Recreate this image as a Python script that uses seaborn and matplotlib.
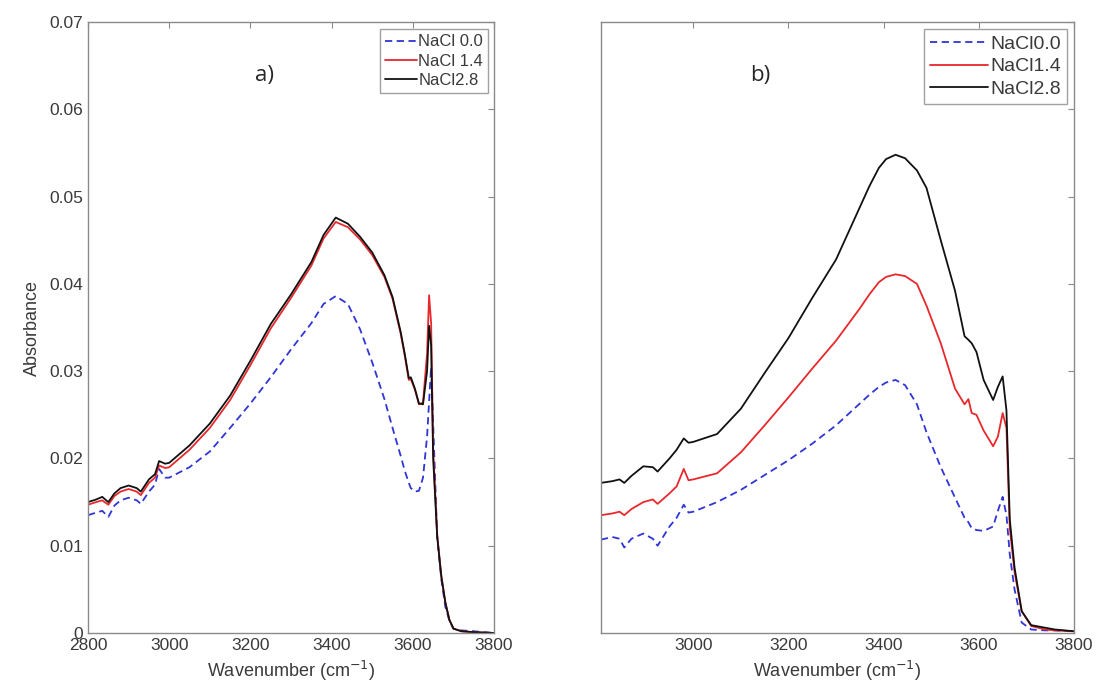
import numpy as np
import pandas as pd
import matplotlib
matplotlib.use('Agg')
import matplotlib.pyplot as plt
import seaborn as sns

# panel a) spectra
wn_a = [2800, 2820, 2835, 2850, 2865, 2880, 2900, 2920, 2930, 2950,
        2965, 2975, 2990, 3000, 3050, 3100, 3150, 3200, 3250, 3300,
        3350, 3380, 3410, 3440, 3470, 3500, 3530, 3550, 3570, 3580,
        3590, 3595, 3605, 3615, 3625, 3635, 3640, 3645, 3650, 3660,
        3670, 3680, 3690, 3700, 3720, 3750, 3800]
a_nacl00 = [0.0135, 0.0138, 0.0140, 0.0133, 0.0146, 0.0152, 0.0155, 0.0152, 0.0148, 0.0162,
            0.0170, 0.0188, 0.0178, 0.0178, 0.0190, 0.0208, 0.0235, 0.0263, 0.0293, 0.0325,
            0.0355, 0.0377, 0.0386, 0.0377, 0.0348, 0.0310, 0.0268, 0.0235, 0.0203, 0.0186,
            0.0172, 0.0166, 0.0162, 0.0163, 0.0178, 0.0225, 0.0265, 0.0305, 0.0240, 0.0110,
            0.0062, 0.0030, 0.0014, 0.0005, 0.0003, 0.0002, 0.0]
a_nacl14 = [0.0147, 0.0150, 0.0152, 0.0147, 0.0157, 0.0162, 0.0165, 0.0162, 0.0158, 0.0172,
            0.0178, 0.0192, 0.0189, 0.0190, 0.0210, 0.0235, 0.0267, 0.0307, 0.0349, 0.0384,
            0.0421, 0.0452, 0.0471, 0.0465, 0.0451, 0.0433, 0.0408, 0.0383, 0.0343, 0.0318,
            0.0290, 0.0291, 0.0279, 0.0262, 0.0264, 0.0320, 0.0387, 0.0355, 0.0210, 0.0112,
            0.0066, 0.0035, 0.0015, 0.0005, 0.0002, 0.0001, 0.0]
a_nacl28 = [0.0150, 0.0153, 0.0156, 0.0150, 0.0160, 0.0166, 0.0169, 0.0166, 0.0162, 0.0176,
            0.0182, 0.0197, 0.0194, 0.0195, 0.0215, 0.0240, 0.0272, 0.0312, 0.0354, 0.0388,
            0.0425, 0.0456, 0.0476, 0.0469, 0.0454, 0.0436, 0.0410, 0.0385, 0.0345, 0.0320,
            0.0292, 0.0293, 0.0280, 0.0263, 0.0262, 0.0300, 0.0352, 0.0330, 0.0200, 0.0110,
            0.0065, 0.0035, 0.0015, 0.0005, 0.0002, 0.0001, 0.0]

# panel b) spectra
wn_b = [2806, 2830, 2845, 2855, 2870, 2895, 2915, 2925, 2950, 2965,
        2980, 2990, 3000, 3050, 3100, 3150, 3200, 3250, 3300, 3350,
        3370, 3390, 3405, 3425, 3445, 3470, 3490, 3520, 3550, 3570,
        3578, 3585, 3595, 3610, 3630, 3640, 3650, 3658, 3665, 3675,
        3690, 3710, 3740, 3760, 3800]
b_nacl00 = [0.0107, 0.0110, 0.0108, 0.0098, 0.0108, 0.0114, 0.0108, 0.0100, 0.0122, 0.0132,
            0.0147, 0.0138, 0.0139, 0.0150, 0.0164, 0.0181, 0.0198, 0.0217, 0.0238, 0.0263,
            0.0273, 0.0282, 0.0287, 0.0290, 0.0284, 0.0262, 0.0230, 0.0190, 0.0155, 0.0132,
            0.0127, 0.0120, 0.0118, 0.0117, 0.0122, 0.0140, 0.0156, 0.0135, 0.0090, 0.0050,
            0.0012, 0.0004, 0.0003, 0.0003, 0.0002]
b_nacl14 = [0.0135, 0.0137, 0.0139, 0.0135, 0.0142, 0.0150, 0.0153, 0.0148, 0.0160, 0.0168,
            0.0188, 0.0175, 0.0176, 0.0183, 0.0207, 0.0238, 0.0270, 0.0303, 0.0335, 0.0372,
            0.0388, 0.0402, 0.0408, 0.0411, 0.0409, 0.0400, 0.0375, 0.0332, 0.0280, 0.0262,
            0.0268, 0.0252, 0.0250, 0.0232, 0.0214, 0.0225, 0.0252, 0.0235, 0.0120, 0.0070,
            0.0025, 0.0008, 0.0004, 0.0003, 0.0002]
b_nacl28 = [0.0172, 0.0174, 0.0176, 0.0172, 0.0180, 0.0191, 0.0190, 0.0185, 0.0200, 0.0210,
            0.0223, 0.0218, 0.0219, 0.0228, 0.0257, 0.0298, 0.0338, 0.0384, 0.0428, 0.0488,
            0.0512, 0.0533, 0.0543, 0.0548, 0.0544, 0.0530, 0.0510, 0.0450, 0.0392, 0.0340,
            0.0336, 0.0332, 0.0322, 0.0290, 0.0267, 0.0282, 0.0294, 0.0255, 0.0130, 0.0075,
            0.0025, 0.0009, 0.0006, 0.0004, 0.0002]

labels_a = ['NaCl 0.0', 'NaCl 1.4', 'NaCl2.8']
labels_b = ['NaCl0.0', 'NaCl1.4', 'NaCl2.8']
colors = ['#2f35d6', '#e8282c', '#111111']
styles = [(0, (4, 2.5)), '-', '-']

sns.set_style('white')
plt.rcParams['font.family'] = ['Liberation Sans', 'DejaVu Sans']

fig = plt.figure(figsize=(11.1, 6.95), dpi=100)
ax1 = fig.add_axes([0.0793, 0.0892, 0.3658, 0.8790])
ax2 = fig.add_axes([0.5414, 0.0892, 0.4262, 0.8790])

grey = '#8a8a8a'
txt = '#3a3a3a'


def draw_panel(ax, wn, series, labels, xlim, xticks, fs_leg, hl):
    for y, lab, c, ls in zip(series, labels, colors, styles):
        sns.lineplot(x=wn, y=y, ax=ax, color=c, linestyle=ls, linewidth=1.3,
                     label=lab, estimator=None, sort=False)
    ax.set_xlim(*xlim)
    ax.set_ylim(0, 0.07)
    ax.set_xticks(xticks)
    ax.set_yticks(np.arange(0, 0.0701, 0.01))
    ax.yaxis.set_major_formatter(plt.FuncFormatter(lambda v, p: '{:g}'.format(round(v, 3))))
    ax.tick_params(direction='in', top=True, right=True, length=4, width=0.8,
                   colors=grey, labelcolor=txt, labelsize=12.5)
    for s in ax.spines.values():
        s.set_color(grey)
        s.set_linewidth(1.0)
    ax.set_xlabel('Wavenumber (cm$^{-1}$)', fontsize=13, color=txt, labelpad=4)
    leg = ax.legend(loc='upper right', bbox_to_anchor=(0.985, 0.988), borderaxespad=0,
                    fontsize=fs_leg, frameon=True, fancybox=False, handlelength=hl,
                    handletextpad=0.1, borderpad=0.3, labelspacing=0.25)
    leg.get_frame().set_edgecolor(grey)
    leg.get_frame().set_linewidth(1.0)
    for t in leg.get_texts():
        t.set_color(txt)


draw_panel(ax1, wn_a, [a_nacl00, a_nacl14, a_nacl28], labels_a,
           (2800, 3800), [2800, 3000, 3200, 3400, 3600, 3800], 12, 1.9)
draw_panel(ax2, wn_b, [b_nacl00, b_nacl14, b_nacl28], labels_b,
           (2806, 3800), [3000, 3200, 3400, 3600, 3800], 14, 3.0)

ax1.set_ylabel('Absorbance', fontsize=13, color=txt, labelpad=6)
ax2.set_ylabel('')
ax2.tick_params(labelleft=False)

fig.text(265 / 1110, 1 - 75 / 695, 'a)', ha='center', va='center', fontsize=16,
         family=['Open Sans', 'DejaVu Sans'])
fig.text(760 / 1110, 1 - 75 / 695, 'b)', ha='center', va='center', fontsize=16,
         family=['Open Sans', 'DejaVu Sans'])

plt.savefig('out.png', dpi=100, facecolor='white')
plt.close()
